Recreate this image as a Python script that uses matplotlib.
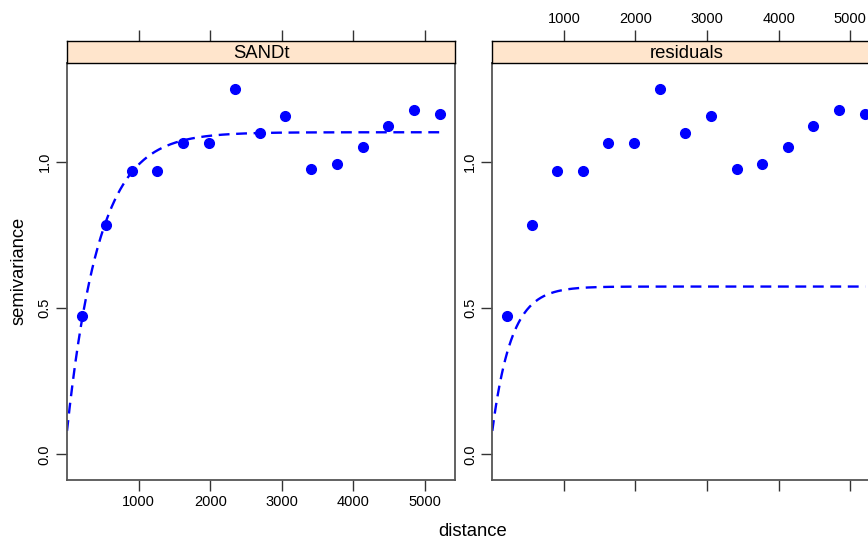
import numpy as np
import matplotlib
matplotlib.use("Agg")
import matplotlib.pyplot as plt

plt.rcParams["font.family"] = ["Liberation Sans", "DejaVu Sans"]

# sample variogram (same points in both panels)
distance = [211, 550, 905, 1263, 1617, 1980, 2344, 2697, 3050, 3413, 3772, 4131, 4485, 4848, 5211]
gamma = [0.474, 0.784, 0.968, 0.970, 1.066, 1.066, 1.249, 1.099, 1.159, 0.976, 0.993, 1.052, 1.125, 1.177, 1.166]

panel_names = ["SANDt", "residuals"]
# fitted exponential models: nugget, partial sill, range
nuggets = [0.08, 0.08]
psills = [1.022, 0.494]
ranges = [450, 265]

x_ticks = [1000, 2000, 3000, 4000, 5000]
y_ticks = [0.0, 0.5, 1.0]
y_ticklabels = ["0.0", "0.5", "1.0"]

W, H = 868, 540
fig = plt.figure(figsize=(W / 100, H / 100), dpi=100)

frame_col = "#555555"
strip_col = "#ffe5cc"
xlim = (0, 1.04 * max(distance))
ylim = (-0.088, 1.339)


def px_box(x0, y0, x1, y1):
    return [x0 / W, (H - y1) / H, (x1 - x0) / W, (y1 - y0) / H]


def style_ticks(ax):
    ax.tick_params(length=8, width=1.0, color="#333333", labelsize=10.5, pad=3)


lefts = [67, 492.3]
for i, name in enumerate(panel_names):
    x0 = lefts[i]
    x1 = x0 + 388
    ax = fig.add_axes(px_box(x0, 63, x1, 480))
    h = np.linspace(0, max(distance), 400)
    model = nuggets[i] + psills[i] * (1 - np.exp(-h / ranges[i]))
    ax.plot(h, model, color="blue", lw=1.7, ls=(0, (4.6, 2.8)))
    ax.plot(distance, gamma, "o", color="blue", ms=7, mec="blue")
    ax.set_xlim(xlim)
    ax.set_ylim(ylim)
    for s in ax.spines.values():
        s.set_color(frame_col)
        s.set_linewidth(1.3)
    ax.set_xticks(x_ticks)
    ax.set_yticks(y_ticks)
    ax.set_yticklabels(y_ticklabels, rotation=90, va="center")
    style_ticks(ax)
    if i == 1:
        ax.set_xticklabels([])

    strip = fig.add_axes(px_box(x0, 41, x1, 63))
    strip.set_facecolor(strip_col)
    strip.set_xlim(xlim)
    strip.set_yticks([])
    strip.text(0.5, 0.45, name, transform=strip.transAxes, ha="center", va="center", fontsize=13.3)
    for s in strip.spines.values():
        s.set_color("black")
        s.set_linewidth(1.0)
    strip.set_xticks(x_ticks)
    strip.xaxis.tick_top()
    style_ticks(strip)
    if i == 0:
        strip.set_xticklabels([])

fig.text(19 / W, 1 - 271 / H, "semivariance", rotation=90, ha="center", va="center", fontsize=13.2)
fig.text(473 / W, 1 - 531 / H, "distance", ha="center", va="center", fontsize=13.3)

fig.savefig("out.png", dpi=100)
